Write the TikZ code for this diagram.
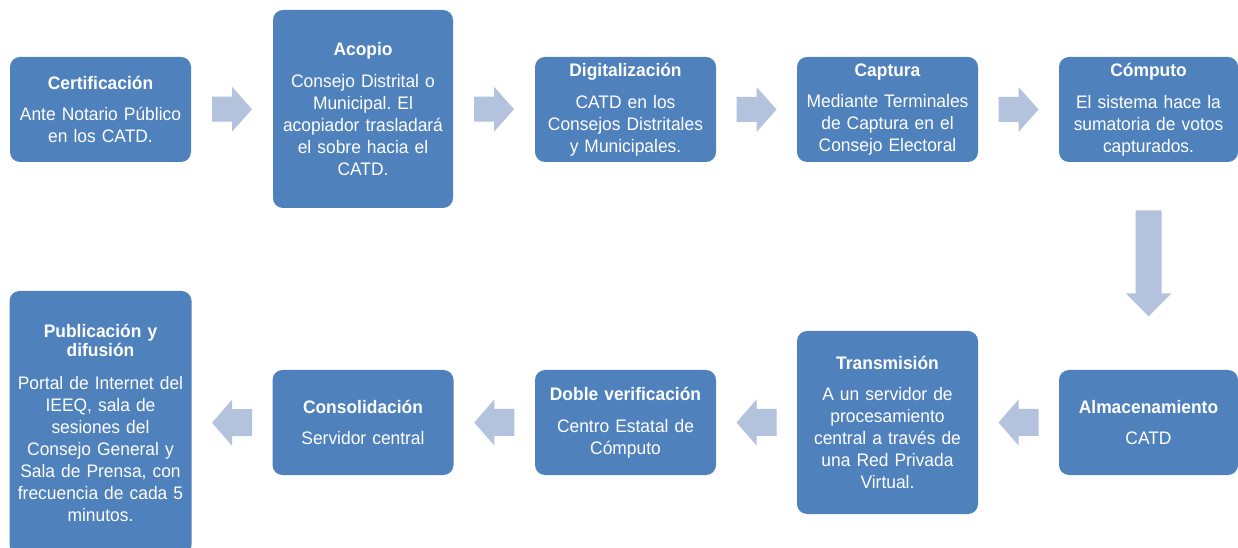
\documentclass[tikz,border=0pt]{standalone}
\usepackage{fontspec}
\setmainfont{Liberation Sans}[FakeStretch=0.96]
\usetikzlibrary{calc}
\definecolor{boxc}{RGB}{79,129,189}
\definecolor{arrc}{RGB}{180,195,221}
\newcommand{\ttl}[1]{{\bfseries #1}\\[7.2pt]}
\frenchspacing
\begin{document}
\begin{tikzpicture}[x=0.75pt,y=-0.75pt,
  box/.style={fill=boxc, rounded corners=7.5pt, inner sep=0pt, text=white,
    align=center, text width=131pt, minimum width=135.75pt, minimum height=78.75pt,
    font=\fontsize{13.6}{16.5}\selectfont},
  rarr/.pic={\fill[arrc] (-20,-12.5) -- (0,-12.5) -- (0,-22.5) -- (20,0) -- (0,22.5) -- (0,12.5) -- (-20,12.5) -- cycle;},
  larr/.pic={\fill[arrc] (20,-13.5) -- (0,-13.5) -- (0,-23) -- (-20,0) -- (0,23) -- (0,13.5) -- (20,13.5) -- cycle;},
  darr/.pic={\fill[arrc] (-13,48) -- (13,48) -- (13,131) -- (23,131) -- (0,154) -- (-23,131) -- (-13,131) -- cycle;}
]
\fill[white] (0,0) rectangle (1238,548);
\path[use as bounding box] (0,0) rectangle (1238,548);

% top row
\node[box] (cert) at (100.5,109.5) {\ttl{Certificación}Ante Notario Público\\en los CATD.};
\node[box, minimum width=135pt, minimum height=148.5pt] (acop) at (363,109) {\ttl{Acopio}Consejo Distrital o\\Municipal. El\\acopiador trasladará\\el sobre hacia el\\CATD.};
\node[box] (digi) at (625.5,109.5) {\ttl{Digitalización}CATD en los\\Consejos Distritales\\y Municipales.};
\node[box] (capt) at (887.5,109.5) {\ttl{Captura}Mediante Terminales\\de Captura en el\\Consejo Electoral};
\node[box, minimum width=134.25pt] (comp) at (1148.5,109.5) {\ttl{Cómputo}El sistema hace la\\sumatoria de votos\\capturados.};

% bottom row
\node[box, minimum width=134.25pt] (alma) at (1148.5,422.5) {\ttl{Almacenamiento}CATD};
\node[box, minimum height=137.25pt] (trans) at (887.5,422.5) {\ttl{Transmisión}A un servidor de\\procesamiento\\central a través de\\una Red Privada\\Virtual.};
\node[box] (doble) at (625.5,422.5) {\ttl{Doble verificación}Centro Estatal de\\Cómputo};
\node[box] (cons) at (363,422.5) {\ttl{Consolidación}Servidor central};
\node[box, minimum width=136.5pt, minimum height=198pt] (publ) at (100.5,423) {{\bfseries Publicación y\\[-2.2pt]difusión}\\[7.8pt]Portal de Internet del\\IEEQ, sala de\\sesiones del\\Consejo General y\\Sala de Prensa, con\\frecuencia de cada 5\\minutos.};

% arrows
\pic at ($(cert.east)!0.5!(acop.west)$) {rarr};
\pic at ($(acop.east)!0.5!(digi.west)$) {rarr};
\pic at ($(digi.east)!0.5!(capt.west)$) {rarr};
\pic at ($(capt.east)!0.5!(comp.west)$) {rarr};
\pic at (comp.south) {darr};
\pic at ($(trans.east)!0.5!(alma.west)$) {larr};
\pic at ($(doble.east)!0.5!(trans.west)$) {larr};
\pic at ($(cons.east)!0.5!(doble.west)$) {larr};
\pic at ($(publ.east)!0.5!(cons.west)$) {larr};
\end{tikzpicture}
\end{document}
